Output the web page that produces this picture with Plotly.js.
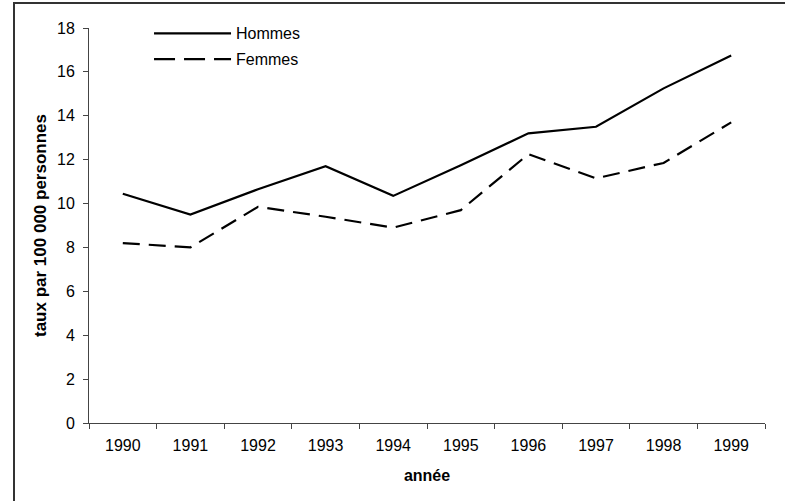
<!DOCTYPE html>
<html>
<head>
<meta charset="utf-8">
<script src="https://cdn.plot.ly/plotly-3.0.1.min.js"></script>
<style>
html,body{margin:0;padding:0;background:#fff;overflow:hidden;}
#wrap{position:relative;width:785px;height:501px;}
#frame{position:absolute;left:13px;top:2px;width:800px;height:600px;border:2px solid #333;box-sizing:border-box;pointer-events:none;}
#chart{position:absolute;left:0;top:0;width:785px;height:501px;}
</style>
</head>
<body>
<div id="wrap"><div id="frame"></div><div id="chart"></div></div>
<script>
const years = ['1990','1991','1992','1993','1994','1995','1996','1997','1998','1999'];
const hommes = [10.45, 9.5, 10.65, 11.7, 10.35, 11.75, 13.2, 13.5, 15.25, 16.75];
const femmes = [8.2, 8.0, 9.85, 9.4, 8.9, 9.7, 12.25, 11.15, 11.85, 13.7];
const yTicks = [0,2,4,6,8,10,12,14,16,18];
const seriesNames = ['Hommes','Femmes'];

const font = 'Liberation Sans, Arial, sans-serif';
const traces = [
  {x: years, y: hommes, name: seriesNames[0], type:'scatter', mode:'lines',
   line:{color:'#000', width:2.2}},
  {x: years, y: femmes, name: seriesNames[1], type:'scatter', mode:'lines',
   line:{color:'#000', width:2.2, dash:'17px,9px'}}
];
const layout = {
  width:785, height:501,
  margin:{l:89, r:20, t:28, b:78, pad:0},
  paper_bgcolor:'rgba(0,0,0,0)', plot_bgcolor:'rgba(0,0,0,0)',
  showlegend:false,
  font:{family:font, size:16, color:'#000'},
  xaxis:{type:'category', range:[-0.5,9.5], tickson:'boundaries', ticks:'outside', ticklen:5,
    tickcolor:'#444', showline:true, linecolor:'#444', linewidth:1, showgrid:false, zeroline:false,
    ticklabelstandoff:8,
    tickfont:{family:font, size:16, color:'#000'},
    title:{text:'<b>année</b>', font:{family:font, size:16, color:'#000'}, standoff:16}},
  yaxis:{range:[0,18], tickvals:yTicks, ticks:'outside', ticklen:5, tickcolor:'#444',
    showline:true, linecolor:'#444', linewidth:1, showgrid:false, zeroline:false,
    ticklabelstandoff:5,
    tickfont:{family:font, size:16, color:'#000'},
    title:{text:'<b>taux par 100 000 personnes</b>', font:{family:font, size:17, color:'#000'}, standoff:6}},
  shapes:[
    {type:'line', xref:'paper', yref:'paper', x0:0.0962, x1:0.2101, y0:0.9866, y1:0.9866,
     line:{color:'#000', width:2.2}},
    {type:'line', xref:'paper', yref:'paper', x0:0.0962, x1:0.2101, y0:0.921, y1:0.921,
     line:{color:'#000', width:2.2, dash:'21px,9px'}}
  ],
  annotations:[
    {xref:'paper', yref:'paper', x:0.2145, y:0.9866, xanchor:'left', yanchor:'middle', showarrow:false,
     text:seriesNames[0], font:{family:font, size:16, color:'#000'}},
    {xref:'paper', yref:'paper', x:0.2145, y:0.921, xanchor:'left', yanchor:'middle', showarrow:false,
     text:seriesNames[1], font:{family:font, size:16, color:'#000'}}
  ]
};
Plotly.newPlot('chart', traces, layout, {displayModeBar:false, staticPlot:true});
</script>
</body>
</html>
